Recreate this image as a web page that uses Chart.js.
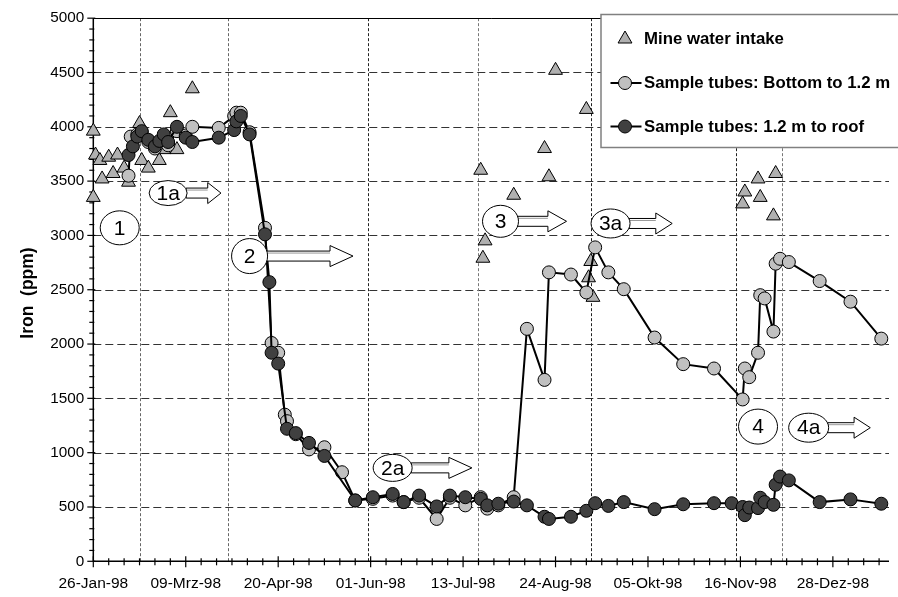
<!DOCTYPE html>
<html>
<head>
<meta charset="utf-8">
<script src="https://cdn.jsdelivr.net/npm/chart.js@4.4.0/dist/chart.umd.min.js"></script>
<style>
  body { margin: 0; background: #fff; }
</style>
</head>
<body>
<canvas id="chart" width="898" height="597"></canvas>
<script>
// --- data ---
const xTickDates = ['1998-01-26', '1998-03-09', '1998-04-20', '1998-06-01', '1998-07-13', '1998-08-24', '1998-10-05', '1998-11-16', '1998-12-28'];
const xTickLabels = ['26-Jan-98', '09-Mrz-98', '20-Apr-98', '01-Jun-98', '13-Jul-98', '24-Aug-98', '05-Okt-98', '16-Nov-98', '28-Dez-98'];

const intakeDates = ['1998-01-26', '1998-01-26', '1998-01-27', '1998-01-29', '1998-01-30', '1998-02-02', '1998-02-04', '1998-02-06', '1998-02-09', '1998-02-11',
  '1998-02-16', '1998-02-17', '1998-02-20', '1998-02-25', '1998-02-27', '1998-03-02', '1998-03-05', '1998-03-12',
  '1998-07-21', '1998-07-22', '1998-07-23', '1998-08-05', '1998-08-19', '1998-08-21', '1998-08-24', '1998-09-07', '1998-09-08', '1998-09-09', '1998-09-10',
  '1998-11-17', '1998-11-18', '1998-11-24', '1998-11-25', '1998-12-01', '1998-12-02'];
const intakeIron = [3960, 3350, 3740, 3690, 3520, 3720, 3570, 3740, 3620, 3490,
  4030, 3690, 3620, 3690, 3790, 4130, 3790, 4350,
  3600, 2790, 2950, 3370, 3800, 3540, 4520, 4160, 2610, 2760, 2430,
  3290, 3400, 3520, 3350, 3180, 3570];

const bottomDates = ['1998-02-11', '1998-02-12', '1998-02-15', '1998-02-17', '1998-02-20', '1998-02-23', '1998-02-25', '1998-02-27', '1998-03-01', '1998-03-05',
  '1998-03-09', '1998-03-12', '1998-03-24', '1998-03-31', '1998-04-01', '1998-04-03', '1998-04-07', '1998-04-14', '1998-04-17', '1998-04-20',
  '1998-04-23', '1998-04-24', '1998-04-28', '1998-05-04', '1998-05-11', '1998-05-19', '1998-05-25', '1998-06-02', '1998-06-11', '1998-06-16',
  '1998-06-23', '1998-07-01', '1998-07-07', '1998-07-14', '1998-07-21', '1998-07-24', '1998-07-29', '1998-08-05', '1998-08-11', '1998-08-19',
  '1998-08-21', '1998-08-31', '1998-09-07', '1998-09-11', '1998-09-17', '1998-09-24', '1998-10-08', '1998-10-21', '1998-11-04', '1998-11-17',
  '1998-11-18', '1998-11-20', '1998-11-24', '1998-11-25', '1998-11-27', '1998-12-01', '1998-12-02', '1998-12-04', '1998-12-08', '1998-12-22',
  '1999-01-05', '1999-01-19'];
const bottomIron = [3550, 3910, 3930, 3950, 3860, 3800, 3850, 3900, 3830, 3960,
  3920, 4000, 3990, 4100, 4130, 4130, 3950, 3070, 2010, 1920,
  1350, 1290, 1170, 1030, 1050, 820, 560, 575, 605, 545,
  585, 390, 585, 515, 590, 485, 515, 590, 2140, 1670,
  2660, 2640, 2475, 2890, 2660, 2505, 2060, 1815, 1775, 1490,
  1775, 1695, 1920, 2450, 2420, 2115, 2740, 2785, 2755, 2580,
  2390, 2050];

const roofDates = ['1998-02-11', '1998-02-13', '1998-02-15', '1998-02-17', '1998-02-20', '1998-02-23', '1998-02-25', '1998-02-27', '1998-03-01', '1998-03-05',
  '1998-03-09', '1998-03-12', '1998-03-24', '1998-03-31', '1998-04-01', '1998-04-03', '1998-04-07', '1998-04-14', '1998-04-16', '1998-04-17',
  '1998-04-20', '1998-04-24', '1998-04-28', '1998-05-04', '1998-05-11', '1998-05-25', '1998-06-02', '1998-06-11', '1998-06-16', '1998-06-23',
  '1998-07-01', '1998-07-07', '1998-07-14', '1998-07-21', '1998-07-24', '1998-07-29', '1998-08-05', '1998-08-11', '1998-08-19', '1998-08-21',
  '1998-08-31', '1998-09-07', '1998-09-11', '1998-09-17', '1998-09-24', '1998-10-08', '1998-10-21', '1998-11-04', '1998-11-12', '1998-11-17',
  '1998-11-18', '1998-11-20', '1998-11-24', '1998-11-25', '1998-11-27', '1998-12-01', '1998-12-02', '1998-12-04', '1998-12-08', '1998-12-22',
  '1999-01-05', '1999-01-19'];
const roofIron = [3740, 3820, 3910, 3960, 3880, 3820, 3870, 3930, 3860, 4000,
  3900, 3860, 3900, 3970, 4050, 4100, 3930, 3010, 2570, 1920,
  1820, 1220, 1180, 1090, 970, 560, 590, 620, 545, 605,
  505, 605, 590, 575, 515, 530, 550, 515, 410, 390,
  410, 465, 535, 510, 545, 480, 525, 535, 535, 500,
  425, 495, 490, 585, 545, 520, 705, 780, 745, 545,
  570, 530];

// phase boundaries (dashed verticals) and circled phase labels
const phaseDates = ['1998-02-16', '1998-03-28', '1998-05-31', '1998-07-20', '1998-09-09', '1998-11-14', '1998-12-05'];
const phaseLineColors = ['#666', '#666', '#222', '#777', '#222', '#222', '#777'];

const phaseLabels = [
  { text: '1',  date: '1998-02-07', iron: 3070, rx: 19.5, ry: 17 },
  { text: '1a', date: '1998-03-01', iron: 3390, rx: 19,   ry: 12.5, arrowTo: '1998-03-25' },
  { text: '2',  date: '1998-04-07', iron: 2810, rx: 18,   ry: 17.5, arrowTo: '1998-05-24' },
  { text: '2a', date: '1998-06-11', iron: 860,  rx: 19.5, ry: 13.5, arrowTo: '1998-07-17' },
  { text: '3',  date: '1998-07-30', iron: 3130, rx: 18,   ry: 16,   arrowTo: '1998-08-29' },
  { text: '3a', date: '1998-09-18', iron: 3110, rx: 19.5, ry: 14.5, arrowTo: '1998-10-16' },
  { text: '4',  date: '1998-11-24', iron: 1240, rx: 19.5, ry: 17.5 },
  { text: '4a', date: '1998-12-17', iron: 1230, rx: 20,   ry: 14.5, arrowTo: '1999-01-14' }
];

const START = Date.UTC(1998, 0, 26);
const dayOf = s => (Date.parse(s + 'T00:00:00Z') - START) / 86400000;
const xTickDays = xTickDates.map(dayOf);
const toPoints = (dates, vals) => dates.map((d, i) => ({ x: dayOf(d), y: vals[i] }));

const FONT = "'Liberation Sans', Arial, sans-serif";
Chart.defaults.color = '#000';
Chart.defaults.font.family = FONT;

function seg(ctx, x1, y1, x2, y2) {
  ctx.beginPath();
  ctx.moveTo(x1, y1);
  ctx.lineTo(x2, y2);
  ctx.stroke();
}

const decor = {
  id: 'decor',
  beforeDatasetsDraw(chart) {
    const { ctx, chartArea: a, scales: { x, y } } = chart;
    ctx.save();
    ctx.lineWidth = 1;
    // horizontal dashed grid
    ctx.strokeStyle = '#333';
    ctx.setLineDash([8, 4]);
    for (let v = 500; v < 5000; v += 500) {
      const py = Math.round(y.getPixelForValue(v)) + 0.5;
      seg(ctx, a.left, py, a.right, py);
    }
    // phase lines
    ctx.setLineDash([3, 2]);
    phaseDates.forEach((d, i) => {
      ctx.strokeStyle = phaseLineColors[i];
      const px = Math.round(x.getPixelForValue(dayOf(d))) + 0.5;
      seg(ctx, px, a.top, px, a.bottom);
    });
    ctx.setLineDash([]);
    // frame top
    ctx.strokeStyle = '#000';
    seg(ctx, a.left, Math.round(a.top) + 0.5, a.right, Math.round(a.top) + 0.5);
    // axes
    ctx.lineWidth = 1.5;
    seg(ctx, a.left, a.top, a.left, a.bottom);
    seg(ctx, a.left, a.bottom, a.right, a.bottom);
    ctx.lineWidth = 1.2;
    for (let v = 0; v <= 5000; v += 100) {
      const py = y.getPixelForValue(v);
      if (v % 500 === 0) seg(ctx, a.left - 6, py, a.left + 2, py);
      else seg(ctx, a.left - 4, py, a.left + 1, py);
    }
    for (let d = 0; d <= x.max; d += 7) {
      const px = x.getPixelForValue(d);
      if (d % 42 === 0) seg(ctx, px, a.bottom - 5, px, a.bottom + 6);
      else seg(ctx, px, a.bottom - 3, px, a.bottom + 4);
    }
    ctx.restore();
  },
  afterDatasetsDraw(chart) {
    const { ctx, chartArea: a, scales: { x, y } } = chart;
    ctx.save();
    // circled phase labels with hollow arrows
    phaseLabels.forEach(p => {
      const cx = x.getPixelForValue(dayOf(p.date));
      const cy = y.getPixelForValue(p.iron);
      if (p.arrowTo) {
        const x0 = cx + p.rx - 1;
        const x1 = x.getPixelForValue(dayOf(p.arrowTo));
        const head = Math.min(23, 0.38 * (x1 - x0));
        ctx.beginPath();
        ctx.moveTo(x0, cy - 5);
        ctx.lineTo(x1 - head, cy - 5);
        ctx.lineTo(x1 - head, cy - 10.5);
        ctx.lineTo(x1, cy);
        ctx.lineTo(x1 - head, cy + 10.5);
        ctx.lineTo(x1 - head, cy + 5);
        ctx.lineTo(x0, cy + 5);
        ctx.closePath();
        ctx.fillStyle = '#fff';
        ctx.fill();
        ctx.strokeStyle = '#000';
        ctx.lineWidth = 1;
        ctx.stroke();
        ctx.strokeStyle = '#999';
        seg(ctx, x0, cy - 3, x1 - head, cy - 3);
      }
      ctx.beginPath();
      ctx.ellipse(cx, cy, p.rx, p.ry, 0, 0, Math.PI * 2);
      ctx.fillStyle = '#fff';
      ctx.fill();
      ctx.strokeStyle = '#000';
      ctx.lineWidth = 1;
      ctx.stroke();
      ctx.fillStyle = '#000';
      ctx.font = '21px ' + FONT;
      ctx.textAlign = 'center';
      ctx.textBaseline = 'middle';
      ctx.fillText(p.text, cx, cy + 1);
    });

    // legend box
    const bx = 601, by = 14.5, bw = 320, bh = 133;
    ctx.fillStyle = '#fff';
    ctx.fillRect(bx, by, bw, bh);
    ctx.strokeStyle = '#808080';
    ctx.lineWidth = 1.5;
    ctx.strokeRect(bx, by, bw, bh);
    const rows = [39, 83, 126.5];
    chart.data.datasets.forEach((ds, i) => {
      const ly = rows[i];
      const mx = 625;
      if (ds.showLine) {
        ctx.strokeStyle = '#000';
        ctx.lineWidth = 2;
        seg(ctx, 610.5, ly, 641.5, ly);
      }
      ctx.fillStyle = ds.pointBackgroundColor;
      ctx.strokeStyle = '#000';
      ctx.lineWidth = 1;
      ctx.beginPath();
      if (ds.pointStyle === 'triangle') {
        const r = ds.pointRadius;
        ctx.moveTo(mx, ly - r);
        ctx.lineTo(mx + r * 0.866, ly + r / 2);
        ctx.lineTo(mx - r * 0.866, ly + r / 2);
        ctx.closePath();
      } else {
        ctx.arc(mx, ly, ds.pointRadius, 0, Math.PI * 2);
      }
      ctx.fill();
      ctx.stroke();
      ctx.fillStyle = '#000';
      ctx.font = 'bold 16.8px ' + FONT;
      ctx.textAlign = 'left';
      ctx.textBaseline = 'middle';
      ctx.fillText(ds.label, 644, ly + 0.5);
    });

    // y axis title
    ctx.translate(28, 293);
    ctx.rotate(-Math.PI / 2);
    ctx.font = 'bold 17.5px ' + FONT;
    ctx.textAlign = 'center';
    ctx.textBaseline = 'middle';
    ctx.fillStyle = '#000';
    ctx.fillText('Iron  (ppm)', 0, 0);
    ctx.restore();
  }
};

new Chart(document.getElementById('chart').getContext('2d'), {
  type: 'scatter',
  data: {
    datasets: [
      {
        label: 'Mine water intake',
        data: toPoints(intakeDates, intakeIron),
        showLine: false,
        pointStyle: 'triangle',
        pointRadius: 8,
        pointBackgroundColor: '#b0b0b0',
        pointBorderColor: '#000',
        pointBorderWidth: 1,
        clip: false,
        order: 2
      },
      {
        label: 'Sample tubes: Bottom to 1.2 m',
        data: toPoints(bottomDates, bottomIron),
        showLine: true,
        borderColor: '#000',
        borderWidth: 2,
        pointStyle: 'circle',
        pointRadius: 6.5,
        pointBackgroundColor: '#c0c0c0',
        pointBorderColor: '#000',
        pointBorderWidth: 1,
        clip: false,
        order: 1
      },
      {
        label: 'Sample tubes: 1.2 m to roof',
        data: toPoints(roofDates, roofIron),
        showLine: true,
        borderColor: '#000',
        borderWidth: 2,
        pointStyle: 'circle',
        pointRadius: 6.5,
        pointBackgroundColor: '#404040',
        pointBorderColor: '#000',
        pointBorderWidth: 1,
        clip: false,
        order: 0
      }
    ]
  },
  options: {
    responsive: false,
    animation: false,
    devicePixelRatio: 1,
    layout: { padding: { top: 14.7, right: 1, left: 0, bottom: 0 } },
    plugins: { legend: { display: false }, tooltip: { enabled: false } },
    scales: {
      x: {
        type: 'linear',
        min: 0,
        max: 361.5,
        grid: { display: false, drawTicks: false },
        border: { display: false },
        afterBuildTicks: s => { s.ticks = xTickDays.map(v => ({ value: v })); },
        afterFit: s => { s.height = 35.7; },
        ticks: {
          autoSkip: false,
          maxRotation: 0,
          padding: 13,
          font: { size: 15.5 },
          callback: v => xTickLabels[xTickDays.indexOf(v)]
        }
      },
      y: {
        min: 0,
        max: 5000,
        grid: { display: false, drawTicks: false },
        border: { display: false },
        afterFit: s => { s.width = 93.3; },
        ticks: {
          stepSize: 500,
          padding: 9,
          font: { size: 15.3 },
          callback: v => String(v)
        }
      }
    }
  },
  plugins: [decor]
});
</script>
</body>
</html>
